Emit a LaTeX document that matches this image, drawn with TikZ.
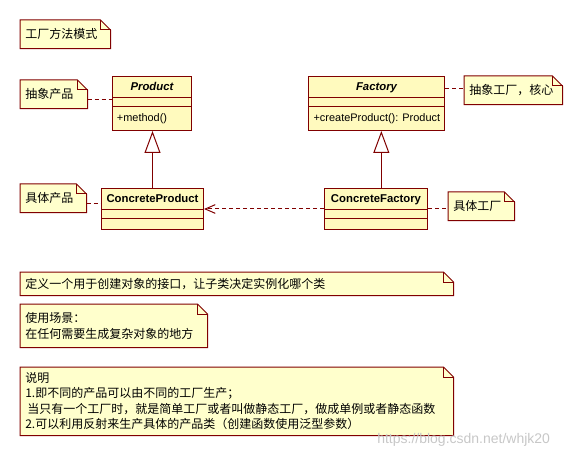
\documentclass[tikz,border=0pt]{standalone}
\usepackage{fontspec}
\setmainfont{Noto Sans CJK SC}
\newfontfamily\lat{Liberation Sans}
\usetikzlibrary{arrows.meta,backgrounds,calc}
\definecolor{umlline}{RGB}{128,0,0}
\definecolor{notefill}{RGB}{255,255,204}
\definecolor{clsfill}{RGB}{255,250,190}
\tikzset{
  umlpath/.style={draw=umlline,line width=0.75pt},
  notetxt/.style={anchor=north west,inner xsep=3.75pt,inner ysep=0pt,align=left,
    font=\fontsize{9pt}{11.6pt}\selectfont},
  clsbox/.style={draw=umlline,fill=clsfill,line width=0.75pt,anchor=north west,inner sep=0pt},
  clsname/.style={inner sep=0pt,anchor=base,font=\lat\fontsize{8.5pt}{10pt}\selectfont\bfseries},
  clsop/.style={inner sep=0pt,anchor=base west,font=\lat\fontsize{8.2pt}{10pt}\selectfont},
  conn/.style={umlpath,dash pattern=on 3pt off 2.25pt},
  gen/.style={umlpath,-{Triangle[open,length=16.5pt,width=12pt]}},
  dep/.style={umlpath,dash pattern=on 3pt off 2.25pt,-{Straight Barb[length=7.5pt,width=6.5pt]}},
}
\newcommand\umlnote[6]{%
  \pgfmathsetmacro\nw{#4*0.75}%
  \pgfmathsetmacro\nh{#5*0.75}%
  \pgfmathsetmacro\tw{(#4-10)*0.75}%
  \node[notetxt,minimum width=\nw pt,minimum height=\nh pt,text width=\tw pt] (#1) at (#2,#3) {#6};
  \begin{scope}[on background layer]
    \draw[umlpath,fill=notefill] (#1.north west) -- ([xshift=-7.5pt]#1.north east)
      -- ([yshift=-7.5pt]#1.north east) -- (#1.south east) -- (#1.south west) -- cycle;
  \end{scope}
  \draw[umlpath] ([xshift=-7.5pt]#1.north east) |- ([yshift=-7.5pt]#1.north east);
}
\begin{document}
\begin{tikzpicture}[x=0.75pt,y=-0.75pt]
\path[use as bounding box] (0,0) rectangle (582,456);

% notes
\umlnote{N0}{20}{20}{90}{28}{工厂方法模式}
\umlnote{N1}{20}{80}{67}{28}{抽象产品}
\umlnote{N2}{20}{184}{66}{28}{具体产品}
\umlnote{N3}{464}{76}{98}{28}{抽象工厂，核心}
\umlnote{N4}{448}{192}{66}{28}{具体工厂}
\umlnote{N5}{20}{272}{433}{23}{定义一个用于创建对象的接口，让子类决定实例化哪个类}
\umlnote{N6}{20}{304}{187}{43}{使用场景：\\在任何需要生成复杂对象的地方}
\umlnote{N7}{20}{367}{433}{68}{说明\\1.即不同的产品可以由不同的工厂生产；\\\hspace*{1.5pt}当只有一个工厂时，就是简单工厂或者叫做静态工厂，做成单例或者静态函数\\2.可以利用反射来生产具体的产品类（创建函数使用泛型参数）}

% classes
\node[clsbox,minimum width=59.25pt,minimum height=40.5pt] (P) at (112,76) {};
\node[clsbox,minimum width=102pt,minimum height=40.5pt] (F) at (308,76) {};
\node[clsbox,minimum width=76.5pt,minimum height=30.75pt] (CP) at (101,188) {};
\node[clsbox,minimum width=77.25pt,minimum height=30.75pt] (CF) at (324,188) {};
\foreach \c in {P,F,CP,CF}{
  \draw[umlpath] ([yshift=-16.5pt]\c.north west) -- ([yshift=-16.5pt]\c.north east);
  \draw[umlpath] ([yshift=-23.25pt]\c.north west) -- ([yshift=-23.25pt]\c.north east);
}
\node[clsname] (Pn) at ([yshift=-11.25pt]P.north) {\itshape Product};
\node[clsname] (Fn) at ([yshift=-11.25pt]F.north) {\itshape Factory};
\node[clsname] (CPn) at ([yshift=-11.25pt]CP.north) {ConcreteProduct};
\node[clsname] (CFn) at ([yshift=-11.25pt]CF.north) {ConcreteFactory};
\node[clsop] (Pm) at ([xshift=3.5pt,yshift=-34.5pt]P.north west) {+method()};
\node[clsop] (Fm) at ([xshift=4pt,yshift=-34.5pt]F.north west) {+createProduct(): Product};

% connectors
\coordinate (c1) at ([yshift=-3.75pt]N1.east);
\draw[conn] (c1) -- (c1 -| P.west);
\coordinate (c3) at ([yshift=1.5pt]N3.west);
\draw[conn] (c3 -| F.east) -- (c3);
\coordinate (c2) at ([yshift=-3.75pt]N2.east);
\draw[conn] (c2) -- (c2 -| CP.west);
\draw[conn] (CF.east) -- (CF.east -| N4.west);
\draw[dep] (CF.west) -- (CP.east);
\draw[gen] (CP.north) -- (CP.north |- P.south);
\coordinate (g2) at ([xshift=4pt]CF.north);
\draw[gen] (g2) -- (g2 |- F.south);

% watermark
\node[anchor=west,inner sep=0pt,text=black!22,font=\lat\fontsize{10.5pt}{12pt}\selectfont] (wm) at (377,440) {https://blog.csdn.net/whjk20};
\end{tikzpicture}
\end{document}
